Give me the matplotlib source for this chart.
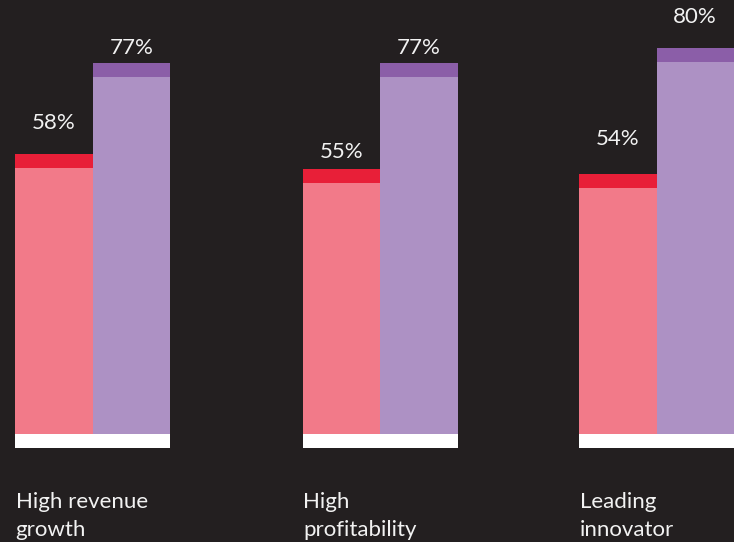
import matplotlib
matplotlib.use('Agg')
import matplotlib.pyplot as plt

plt.rcParams['font.family'] = ['Lato', 'DejaVu Sans']

# data
categories = ['High revenue\ngrowth', 'High\nprofitability', 'Leading\ninnovator']
series_a = [58, 55, 54]
series_b = [77, 77, 80]

# style
BG = '#231f20'
PINK, RED = '#f27a89', '#e81f38'
LILAC, PURPLE = '#ad91c4', '#8b5ea8'
TXT = '#f2f2f2'

group_x = [92.5, 380, 656.5]   # group centres (pixel-like x units)
bw = 77.5
cap = 2.9                      # cap thickness in % units
# gap (px) between bar top and value label centre, as in the original
gap_a = [31, 17, 35]
gap_b = [15, 15, 31]

fig = plt.figure(figsize=(7.34, 5.42), dpi=100, facecolor=BG)
ax = fig.add_axes([0, 0, 1, 1])
ax.set_facecolor(BG)
ax.set_xlim(0, 734)
ax.set_ylim(-22.4, 90.04)
ax.axis('off')

for i, (gx, a, b, cat) in enumerate(zip(group_x, series_a, series_b, categories)):
    xa, xb = gx - bw / 2, gx + bw / 2
    ax.bar(xa, a, bw, color=PINK, linewidth=0)
    ax.bar(xa, cap, bw, bottom=a - cap, color=RED, linewidth=0)
    ax.bar(xb, b, bw, color=LILAC, linewidth=0)
    ax.bar(xb, cap, bw, bottom=b - cap, color=PURPLE, linewidth=0)
    # white base strip
    ax.bar(gx, 2.9, 2 * bw, bottom=-2.9, color='white', linewidth=0)
    for x, v, g in [(xa, a, gap_a[i]), (xb, b, gap_b[i])]:
        ax.annotate(f'{v}%', xy=(x, v), xytext=(0, g / 1.389), textcoords='offset points',
                    ha='center', va='center', color=TXT, fontsize=16)
    ax.text(gx - bw + 0.5, -12.0, cat, ha='left', va='top', color=TXT,
            fontsize=16, linespacing=1.5)

fig.savefig('out.png', dpi=100, facecolor=BG)
